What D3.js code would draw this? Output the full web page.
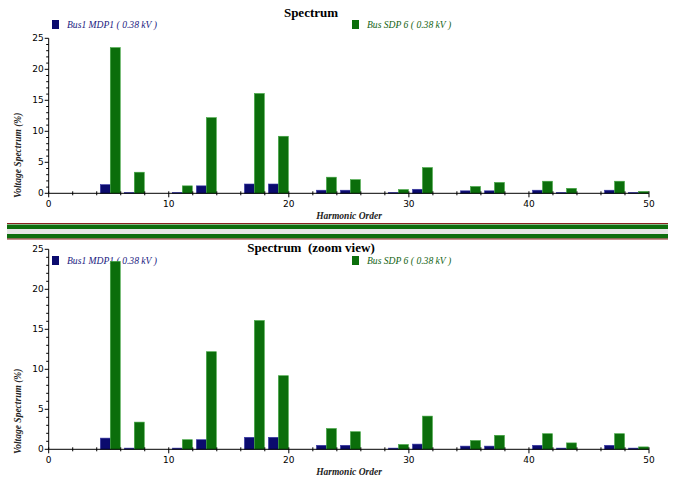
<!DOCTYPE html>
<html>
<head>
<meta charset="utf-8">
<title>Spectrum</title>
<script src="https://d3js.org/d3.v7.min.js"></script>
<style>
body { margin: 0; background: #fff; }
svg { display: block; }
</style>
</head>
<body>
<script type="text/javascript">

var width = 675,
    height = 484;

// harmonic orders and voltage spectrum (%) per bus
var harmonics = [5, 7, 11, 13, 17, 19, 23, 25, 29, 31, 35, 37, 41, 43, 47, 49];
var busMDP1 = [1.4, 0.15, 0.15, 1.2, 1.5, 1.5, 0.5, 0.5, 0.15, 0.65, 0.4, 0.4, 0.5, 0.15, 0.5, 0.15];
var busSDP6 = [23.5, 3.4, 1.2, 12.2, 16.1, 9.2, 2.6, 2.2, 0.6, 4.15, 1.1, 1.75, 1.95, 0.8, 1.95, 0.3];
var seriesNames = ["Bus1 MDP1 ( 0.38 kV )", "Bus SDP 6 ( 0.38 kV )"];
var xTicks = [0, 10, 20, 30, 40, 50];
var yTicks = [0, 5, 10, 15, 20, 25];

var blue = "#0b0b6e", blueEdge = "#3a3aa8",
    green = "#0b6e0b", greenEdge = "#45a845";

var svg = d3.select("body").append("svg")
    .attr("width", width)
    .attr("height", height);

var x = d3.scaleLinear().domain([0, 50]).range([48.7, 649]);

function drawChart(title, titleY, top, bottom, legendY) {
    var y = d3.scaleLinear().domain([0, 25]).range([bottom, top]);
    var g = svg.append("g");

    g.append("text")
        .attr("x", 311).attr("y", titleY)
        .attr("text-anchor", "middle")
        .style("font-family", "Liberation Serif")
        .style("font-weight", "bold")
        .style("font-size", "13px")
        .style("white-space", "pre")
        .text(title);

    // legend
    var lg = [{name: seriesNames[0], c: blue, tc: "#1a1a80", x: 52},
              {name: seriesNames[1], c: green, tc: "#146414", x: 352}];
    lg.forEach(function(d) {
        g.append("rect")
            .attr("x", d.x).attr("y", legendY - 8)
            .attr("width", 7).attr("height", 9)
            .attr("fill", d.c);
        g.append("text")
            .attr("x", d.x + 15).attr("y", legendY)
            .style("font-family", "Liberation Serif")
            .style("font-style", "italic")
            .style("font-size", "9.6px")
            .attr("fill", d.tc)
            .style("white-space", "pre")
            .text(d.name);
    });

    // bars
    var bw = 0.83, off = 0.13;
    g.selectAll(".b1").data(harmonics).enter().append("rect")
        .attr("x", function(h) { return x(h + off - bw); })
        .attr("width", x(bw) - x(0))
        .attr("y", function(h, i) { return y(busMDP1[i]); })
        .attr("height", function(h, i) { return bottom - y(busMDP1[i]); })
        .attr("fill", blue).attr("stroke", blueEdge).attr("stroke-width", 0.6);
    g.selectAll(".b2").data(harmonics).enter().append("rect")
        .attr("x", function(h) { return x(h + off); })
        .attr("width", x(bw) - x(0))
        .attr("y", function(h, i) { return y(busSDP6[i]); })
        .attr("height", function(h, i) { return bottom - y(busSDP6[i]); })
        .attr("fill", green).attr("stroke", greenEdge).attr("stroke-width", 0.6);

    // x axis
    var xa = g.append("g").attr("transform", "translate(0," + bottom + ")");
    xa.append("line").attr("x1", x(0)).attr("x2", x(50)).attr("stroke", "#000");
    xa.selectAll(".mt").data(d3.range(0, 51, 2)).enter().append("line")
        .attr("x1", function(d) { return x(d); }).attr("x2", function(d) { return x(d); })
        .attr("y1", -2).attr("y2", function(d) { return d % 10 === 0 ? 4 : 2; })
        .attr("stroke", "#000");
    xa.selectAll("text").data(xTicks).enter().append("text")
        .attr("x", function(d) { return x(d); }).attr("y", 14)
        .attr("text-anchor", "middle")
        .style("font-family", "DejaVu Sans")
        .style("font-size", "9px")
        .text(function(d) { return d; });

    g.append("text")
        .attr("x", 349).attr("y", bottom + 26)
        .attr("text-anchor", "middle")
        .style("font-family", "Liberation Serif")
        .style("font-style", "italic")
        .style("font-weight", "bold")
        .style("font-size", "9.5px")
        .attr("fill", "#222")
        .text("Harmonic Order");

    // y axis
    var ya = g.append("g").attr("transform", "translate(" + x(0) + ",0)");
    ya.append("line").attr("y1", y(0)).attr("y2", y(25)).attr("stroke", "#000");
    ya.selectAll(".mt").data(d3.range(0, 26, 1)).enter().append("line")
        .attr("y1", function(d) { return y(d); }).attr("y2", function(d) { return y(d); })
        .attr("x1", function(d) { return d % 5 === 0 ? -4 : -2.5; }).attr("x2", 0)
        .attr("stroke", "#000");
    ya.selectAll("text").data(yTicks).enter().append("text")
        .attr("x", -5).attr("y", function(d) { return y(d) + 3; })
        .attr("text-anchor", "end")
        .style("font-family", "DejaVu Sans")
        .style("font-size", "9px")
        .text(function(d) { return d; });

    g.append("text")
        .attr("transform", "translate(21," + (bottom - 38) + ") rotate(-90)")
        .attr("text-anchor", "middle")
        .style("font-family", "Liberation Serif")
        .style("font-style", "italic")
        .style("font-weight", "bold")
        .style("font-size", "9.5px")
        .attr("fill", "#222")
        .text("Voltage Spectrum (%)");
}

drawChart("Spectrum", 17, 38.3, 193.3, 28);
drawChart("Spectrum  (zoom view)", 252, 249.3, 449.3, 264);

// separator between the two views
var sep = svg.append("g");
sep.append("rect").attr("x", 7).attr("y", 223).attr("width", 661).attr("height", 1).attr("fill", "#8a2020");
sep.append("rect").attr("x", 7).attr("y", 224.5).attr("width", 661).attr("height", 4.5).attr("fill", "#0e6e0e");
sep.append("rect").attr("x", 7).attr("y", 229).attr("width", 661).attr("height", 5).attr("fill", "#e6e6e6");
sep.append("rect").attr("x", 7).attr("y", 234).attr("width", 661).attr("height", 4.5).attr("fill", "#0e6e0e");
sep.append("rect").attr("x", 7).attr("y", 238.5).attr("width", 661).attr("height", 1).attr("fill", "#8a2020");

</script>
</body>
</html>
